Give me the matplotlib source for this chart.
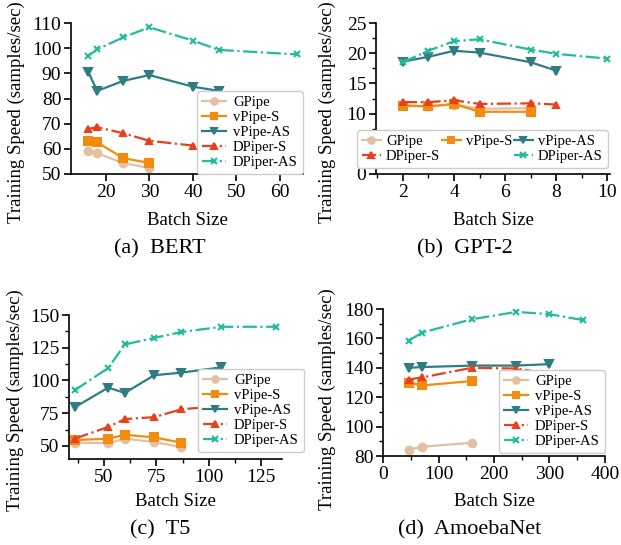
import matplotlib
matplotlib.use("Agg")
import matplotlib.pyplot as plt
from matplotlib.ticker import AutoMinorLocator
from matplotlib.lines import Line2D

plt.rcParams['font.family'] = ['Liberation Serif', 'DejaVu Serif']

series_names = ['GPipe', 'vPipe-S', 'vPipe-AS', 'DPiper-S', 'DPiper-AS']
colors = ['#e3c0a0', '#f28c10', '#2f7d83', '#e8401c', '#22bb9c']
markers = ['o', 's', 'v', '^', 'x']
styles = ['-', '-', '-', '-.', '-.']

# (a) BERT
bert_x = [[16, 18, 24, 30], [16, 18, 24, 30], [16, 18, 24, 30, 40, 46],
          [16, 18, 24, 30, 40], [16, 18, 24, 30, 40, 46, 64]]
bert_y = [[59.2, 58.3, 54.3, 52.4], [63.3, 62.6, 56.3, 54.4],
          [90.5, 83.0, 87.0, 89.3, 84.7, 83.0],
          [67.9, 68.6, 66.2, 63.2, 61.3],
          [97.0, 99.5, 104.3, 108.3, 103.0, 99.3, 97.5]]

# (b) GPT-2
gpt_x = [[2, 3, 4, 5, 7], [2, 3, 4, 5, 7], [2, 3, 4, 5, 7, 8],
         [2, 3, 4, 5, 7, 8], [2, 3, 4, 5, 7, 8, 10]]
gpt_y = [[11.4, 11.2, 11.5, 10.8, 10.9], [11.3, 11.2, 11.6, 10.3, 10.3],
         [18.6, 19.4, 20.4, 20.1, 18.5, 17.1],
         [11.9, 11.9, 12.2, 11.6, 11.7, 11.5],
         [18.5, 20.4, 22.0, 22.3, 20.6, 19.9, 19.1]]

# (c) T5
t5_x = [[36, 52, 60, 74, 87], [36, 52, 60, 74, 87], [36, 52, 60, 74, 87, 106],
        [36, 52, 60, 74, 87, 106], [36, 52, 60, 74, 87, 106, 132]]
t5_y = [[52.5, 52.0, 55.5, 53.0, 49.0], [54.5, 55.5, 58.5, 56.5, 52.5],
        [79.5, 94.5, 90.5, 104.0, 106.0, 110.0],
        [55.5, 64.5, 70.5, 72.0, 78.0, 80.5],
        [92.5, 109.5, 127.5, 132.5, 137.0, 141.0, 141.0]]

# (d) AmoebaNet
amoeba_x = [[46, 71, 160], [46, 71, 160], [46, 71, 160, 240, 300],
            [46, 71, 160, 240, 300], [46, 71, 160, 240, 300, 360]]
amoeba_y = [[84.3, 86.3, 89.0], [130.0, 128.0, 131.0],
            [140.0, 140.5, 141.5, 141.5, 142.5],
            [132.0, 133.5, 140.0, 139.5, 136.0],
            [158.5, 164.0, 173.0, 178.0, 176.5, 172.5]]

W, H = 621, 545
fig = plt.figure(figsize=(W / 100, H / 100), dpi=100)


def box(l, r, t, b):
    return [l / W, 1 - b / H, (r - l) / W, (b - t) / H]


def panel(rect, xs, ys, xlim, ylim, xticks, yticks, minor, ylab_xy, xlab_y):
    ax = fig.add_axes(rect)
    for i in range(5):
        ms = 5.5 if markers[i] in 'osv' else 5
        ax.plot(xs[i], ys[i], color=colors[i], marker=markers[i], ls=styles[i],
                lw=1.6, ms=ms, mew=1.5, label=series_names[i])
    ax.set_xlim(*xlim)
    ax.set_ylim(*ylim)
    ax.set_xticks(xticks)
    ax.set_yticks(yticks)
    if minor:
        ax.xaxis.set_minor_locator(AutoMinorLocator(2))
        ax.yaxis.set_minor_locator(AutoMinorLocator(2))
    ax.spines['top'].set_visible(False)
    ax.spines['right'].set_visible(False)
    for s in ['left', 'bottom']:
        ax.spines[s].set_linewidth(1.2)
    ax.tick_params(which='major', length=5, width=1.2, labelsize=14, pad=2)
    ax.tick_params(which='minor', length=3, width=1.0)
    ax.set_xlabel('Batch Size', fontsize=13.5)
    ax.set_ylabel('Training Speed (samples/sec)', fontsize=13.5)
    ax.yaxis.set_label_coords(*ylab_xy)
    ax.xaxis.set_label_coords(0.5, xlab_y)
    return ax


def legend(ax, anchor, **kw):
    lg = ax.legend(loc='lower right', bbox_to_anchor=anchor, fontsize=10.5,
                   handlelength=1.6, handletextpad=0.5, labelspacing=0.12,
                   borderpad=0.35, borderaxespad=0, framealpha=1,
                   fancybox=True, markerscale=0.85, **kw)
    lg.get_frame().set_edgecolor('#cccccc')
    lg.get_frame().set_linewidth(1.0)
    return lg


ax_a = panel(box(71, 303, 23, 174), bert_x, bert_y, (12, 65.3), (50, 110),
             [20, 30, 40, 50, 60], [50, 60, 70, 80, 90, 100, 110], False,
             (-0.20, 0.41), -0.25)
legend(ax_a, (1.0, 0.0))

ax_b = panel(box(376, 610, 23, 174), gpt_x, gpt_y, (0.95, 10.1), (0, 25),
             [2, 4, 6, 8, 10], [0, 5, 10, 15, 20, 25], True,
             (-0.17, 0.41), -0.25)
h, l = ax_b.get_legend_handles_labels()
blank = Line2D([], [], color='none')
order_h = [h[0], h[3], h[1], blank, h[2], h[4]]
order_l = [l[0], l[3], l[1], '', l[2], l[4]]
lg = ax_b.legend(order_h, order_l, ncol=3, loc='lower right',
                 bbox_to_anchor=(0.99, 0.04), fontsize=10.5, handlelength=1.3,
                 handletextpad=0.35, labelspacing=0.12, columnspacing=0.1,
                 borderpad=0.35, borderaxespad=0, framealpha=1, fancybox=True,
                 markerscale=0.85)
lg.get_frame().set_edgecolor('#cccccc')

ax_c = panel(box(69, 282, 315, 459), t5_x, t5_y, (33.3, 135), (40, 150),
             [50, 75, 100, 125], [50, 75, 100, 125, 150], True,
             (-0.21, 0.41), -0.236)
legend(ax_c, (1.103, 0.05))

ax_d = panel(box(383, 605, 309, 456), amoeba_x, amoeba_y, (0, 400), (80, 180),
             [0, 100, 200, 300, 400], [80, 100, 120, 140, 160, 180], True,
             (-0.21, 0.39), -0.25)
legend(ax_d, (1.0, 0.02))

fig.text(160 / W, 1 - 249 / H, '(a)  BERT', fontsize=16, ha='center', va='center')
fig.text(465 / W, 1 - 249 / H, '(b)  GPT-2', fontsize=16, ha='center', va='center')
fig.text(160 / W, 1 - 530 / H, '(c)  T5', fontsize=16, ha='center', va='center')
fig.text(470 / W, 1 - 530 / H, '(d)  AmoebaNet', fontsize=16, ha='center', va='center')

fig.savefig('out.png', dpi=100)
